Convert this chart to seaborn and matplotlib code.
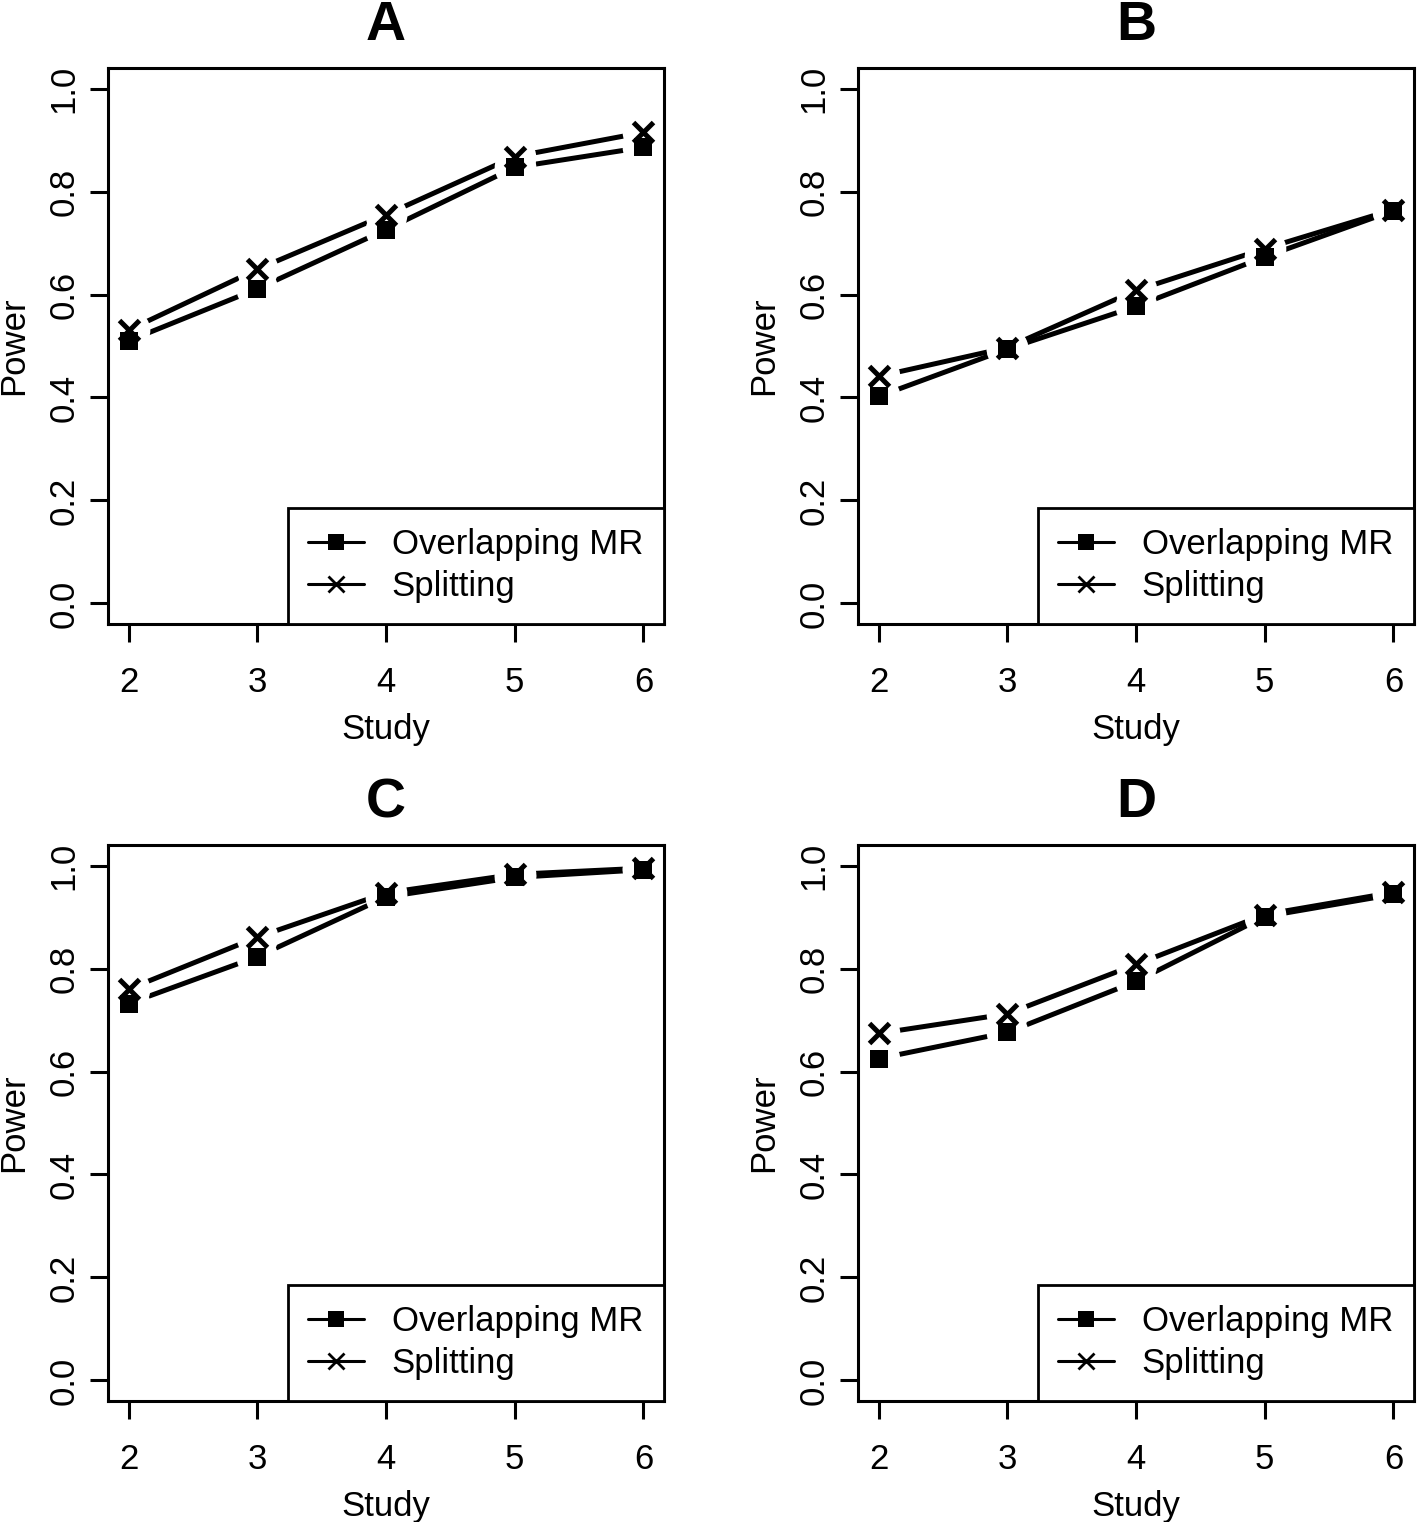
import matplotlib
matplotlib.use("Agg")
import matplotlib.pyplot as plt
import seaborn as sns
from matplotlib.lines import Line2D
from matplotlib import font_manager

sns.set_theme(style="white")
names = {f.name for f in font_manager.fontManager.ttflist}
fam = 'Liberation Sans Narrow' if 'Liberation Sans Narrow' in names else 'Liberation Sans'
plt.rcParams['font.family'] = [fam, 'DejaVu Sans']
plt.rcParams['text.color'] = 'black'

studies = [2, 3, 4, 5, 6]
panels = ['A', 'B', 'C', 'D']

overlap_A = [0.510, 0.611, 0.726, 0.847, 0.886]
split_A = [0.531, 0.649, 0.755, 0.868, 0.915]
overlap_B = [0.402, 0.494, 0.577, 0.673, 0.763]
split_B = [0.441, 0.497, 0.608, 0.689, 0.765]
overlap_C = [0.732, 0.823, 0.939, 0.977, 0.992]
split_C = [0.760, 0.861, 0.947, 0.983, 0.995]
overlap_D = [0.625, 0.676, 0.775, 0.901, 0.944]
split_D = [0.674, 0.712, 0.808, 0.905, 0.948]

overlap = {'A': overlap_A, 'B': overlap_B, 'C': overlap_C, 'D': overlap_D}
split = {'A': split_A, 'B': split_B, 'C': split_C, 'D': split_D}

yticks = [0.0, 0.2, 0.4, 0.6, 0.8, 1.0]

fig = plt.figure(figsize=(14.17, 15.22), dpi=100)
W, H = 1417, 1522
boxes = {
    'A': (108, 68), 'B': (858, 68),
    'C': (108, 845), 'D': (858, 845),
}
bw, bh = 556, 556
fs = 29 if fam.endswith('Narrow') else 25

for p in panels:
    x0, y0 = boxes[p]
    ax = fig.add_axes([x0 / W, 1 - (y0 + bh) / H, bw / W, bh / H])

    for vals in (overlap[p], split[p]):
        sns.lineplot(x=studies, y=vals, ax=ax, color='black', lw=3.6,
                     solid_capstyle='round', zorder=2)
    # gaps around points like R type="b"
    for vals in (overlap[p], split[p]):
        ax.plot(studies, vals, 'o', color='white', ms=30, mew=0, zorder=3)
    ax.plot(studies, overlap[p], 's', color='black', ms=13.5, mew=0, zorder=4)
    ax.plot(studies, split[p], 'x', color='black', ms=14, mew=3.6, zorder=4)

    ax.set_xlim(1.84, 6.16)
    ax.set_ylim(-0.04, 1.04)
    ax.set_xticks(studies)
    ax.set_yticks(yticks)
    ax.set_yticklabels([f'{v:.1f}' for v in yticks], rotation=90, va='center')
    ax.tick_params(axis='both', direction='out', length=13, width=2.2,
                   labelsize=fs, color='black', labelcolor='black',
                   bottom=True, left=True)
    ax.tick_params(axis='x', pad=17)
    ax.tick_params(axis='y', pad=7)
    for s in ax.spines.values():
        s.set_color('black')
        s.set_linewidth(2.2)
        s.set_zorder(6)
    ax.set_xlabel('Study', fontsize=fs, color='black', labelpad=10)
    ax.set_ylabel('Power', fontsize=fs, color='black', labelpad=12)
    ax.set_title(p, fontsize=40, fontweight='bold', color='black', pad=20)

    handles = [
        Line2D([0], [0], color='black', lw=2.2, marker='s', ms=11, mew=0),
        Line2D([0], [0], color='black', lw=2.2, marker='x', ms=12, mew=2),
    ]
    leg = ax.legend(handles, ['Overlapping MR', 'Splitting'], loc='lower right',
                    fontsize=fs, frameon=True, fancybox=False, borderaxespad=0,
                    handlelength=1.6, handletextpad=0.8, labelspacing=0.25,
                    borderpad=0.6, labelcolor='black')
    leg.get_frame().set_edgecolor('black')
    leg.get_frame().set_linewidth(2.0)
    leg.get_frame().set_alpha(1)
    leg.set_zorder(7)

fig.savefig('out.png', dpi=100)
